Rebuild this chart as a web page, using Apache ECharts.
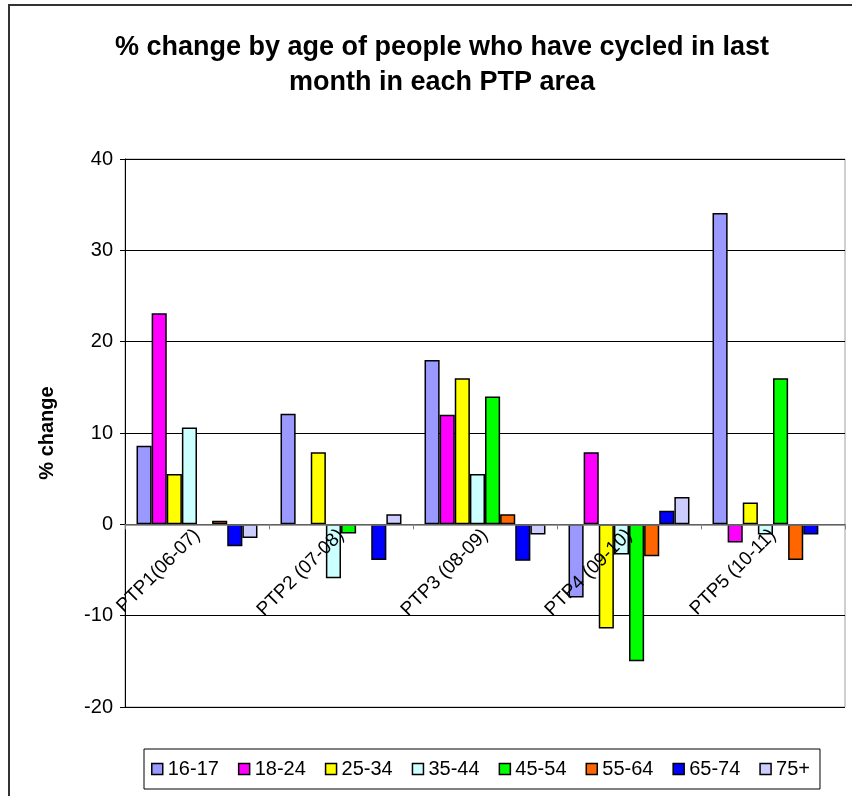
<!DOCTYPE html>
<html>
<head>
<meta charset="utf-8">
<script src="https://cdn.jsdelivr.net/npm/echarts@6/dist/echarts.min.js"></script>
<style>
  html, body { margin: 0; padding: 0; background: #fff; }
  #chart { width: 852px; height: 796px; }
</style>
</head>
<body>
<div id="chart"></div>
<script>
// PTP areas along the category axis
const areas = ['PTP1(06-07)', 'PTP2 (07-08)', 'PTP3 (08-09)', 'PTP4 (09-10)', 'PTP5 (10-11)'];

// Age bands (one series each)
const ageBands = ['16-17', '18-24', '25-34', '35-44', '45-54', '55-64', '65-74', '75+'];

// % change per area for each age band (null = no value recorded)
const age16to17 = [8.6, 12.1, 18.0, -8.0, 34.1];
const age18to24 = [23.1, null, 12.0, 7.9, -2.0];
const age25to34 = [5.5, 7.9, 16.0, -11.4, 2.4];
const age35to44 = [10.6, -5.9, 5.5, -3.3, -1.1];
const age45to54 = [null, -1.0, 14.0, -15.0, 16.0];
const age55to64 = [0.4, null, 1.1, -3.5, -3.9];
const age65to74 = [-2.4, -3.9, -4.0, 1.5, -1.1];
const age75plus = [-1.5, 1.1, -1.1, 3.0, null];

// Value axis ticks
const yTicks = [-20, -10, 0, 10, 20, 30, 40];

const seriesValues = [age16to17, age18to24, age25to34, age35to44, age45to54, age55to64, age65to74, age75plus];
const bandColors = ['#9999FF', '#FF00FF', '#FFFF00', '#CCFFFF', '#00FF00', '#FF6600', '#0000FF', '#CCCCFF'];

const chart = echarts.init(document.getElementById('chart'), null, { renderer: 'canvas' });

const font = 'Arial, "Liberation Sans", sans-serif';

chart.setOption({
  animation: false,
  backgroundColor: '#ffffff',
  title: {
    text: '% change by age of people who have cycled in last\nmonth in each PTP area',
    left: 437,
    top: 25,
    textAlign: 'center',
    textStyle: {
      fontFamily: font,
      fontWeight: 'bold',
      fontSize: 27,
      lineHeight: 35,
      color: '#000'
    }
  },
  legend: {
    data: ageBands,
    left: 144,
    top: 749,
    padding: [10, 10, 10, 7],
    borderColor: '#000',
    borderWidth: 1,
    itemGap: 19,
    itemWidth: 11,
    itemHeight: 11,
    icon: 'rect',
    itemStyle: { borderColor: '#000', borderWidth: 1.5 },
    textStyle: { fontFamily: font, fontSize: 20, color: '#000' }
  },
  graphic: [
    {
      type: 'rect',
      shape: { x: 9, y: 5, width: 900, height: 850 },
      style: { fill: 'none', stroke: '#333', lineWidth: 2 },
      silent: true,
      z: 100
    }
  ],
  grid: {
    left: 125,
    right: 7,
    top: 159,
    bottom: 89,
    show: true,
    borderColor: '#a0a0a0',
    borderWidth: 1,
    containLabel: false,
    outerBoundsMode: 'none'
  },
  xAxis: {
    type: 'category',
    data: areas,
    zlevel: 1,
    axisLine: { onZero: false, lineStyle: { color: '#808080', width: 1.5 } },
    axisTick: { show: true, length: 5, lineStyle: { color: '#808080' } },
    axisLabel: {
      rotate: 45,
      margin: 8,
      fontFamily: font,
      fontSize: 19,
      color: '#000'
    },
    splitLine: { show: false }
  },
  yAxis: {
    type: 'value',
    min: yTicks[0],
    max: yTicks[yTicks.length - 1],
    interval: 10,
    name: '% change',
    nameLocation: 'middle',
    nameRotate: 90,
    nameGap: 68,
    nameTextStyle: { fontFamily: font, fontWeight: 'bold', fontSize: 20, color: '#000' },
    axisLine: { show: true, lineStyle: { color: '#000', width: 1 } },
    axisTick: { show: true, inside: false, length: 5, lineStyle: { color: '#000' } },
    axisLabel: { margin: 12, fontFamily: font, fontSize: 20, color: '#000' },
    splitLine: { show: true, lineStyle: { color: '#000', width: 1 } }
  },
  series: ageBands.map((band, i) => ({
    name: band,
    type: 'bar',
    data: seriesValues[i],
    barGap: '0%',
    barCategoryGap: '16%',
    itemStyle: { color: bandColors[i], borderColor: '#000', borderWidth: 1.5 },
    z: 2
  }))
});

// Lift the category axis (line, ticks and labels) onto the zero line
const zeroY = chart.convertToPixel({ yAxisIndex: 0 }, 0);
const bottomY = chart.convertToPixel({ yAxisIndex: 0 }, yTicks[0]);
chart.setOption({ xAxis: { offset: -(bottomY - zeroY) } });
</script>
</body>
</html>
